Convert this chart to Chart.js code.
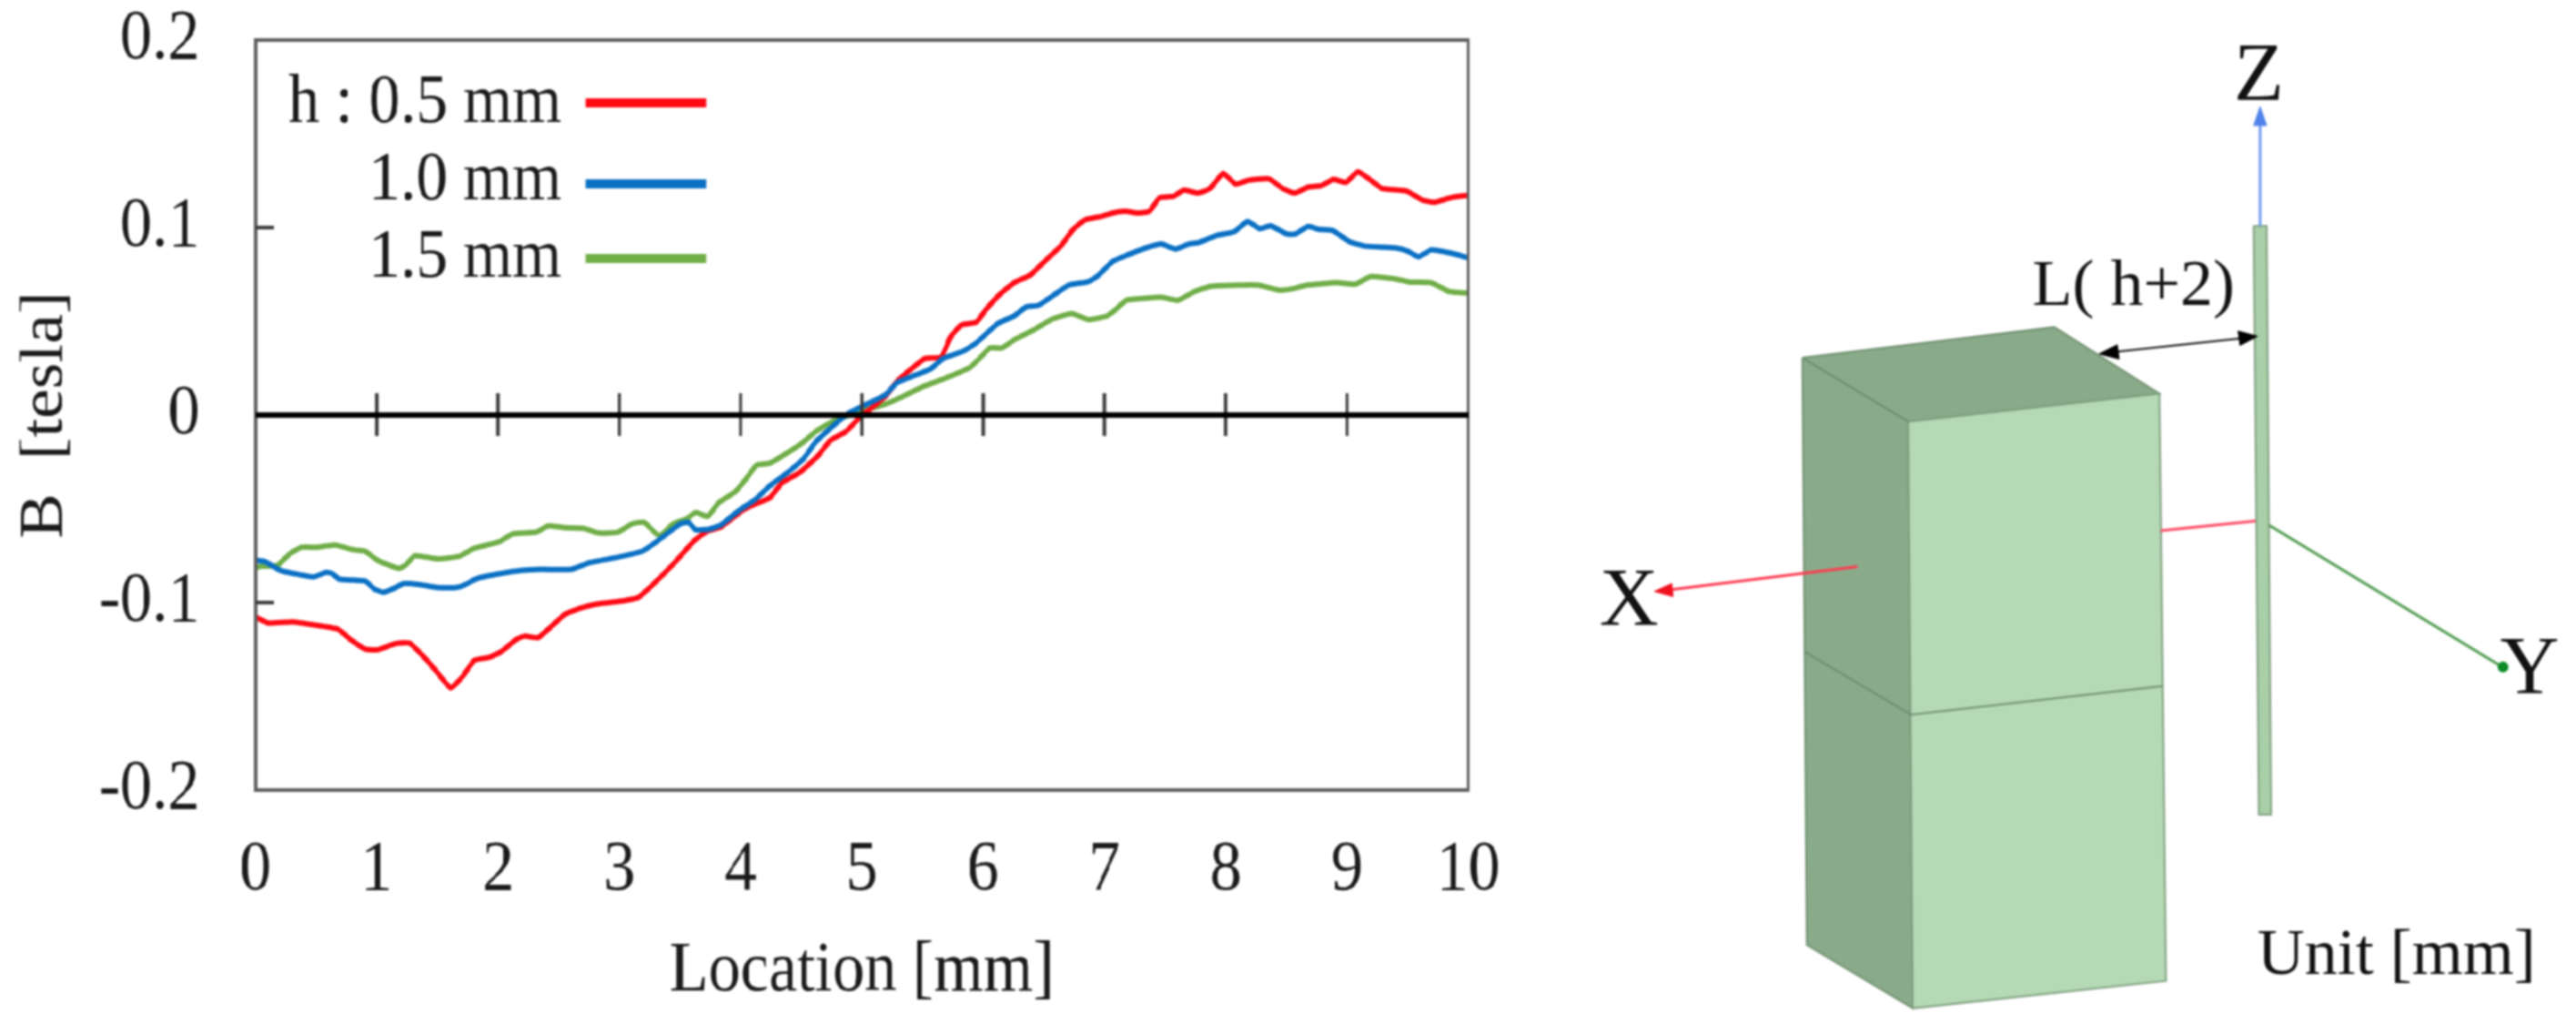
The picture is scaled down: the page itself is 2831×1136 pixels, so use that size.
<!DOCTYPE html>
<html lang="en">
  <head>
    <meta charset="UTF-8" />
    <title>B field along location</title>
    <script src="https://cdn.jsdelivr.net/npm/chart.js@4"></script>
    <style>
      html, body { margin: 0; background: #fff; overflow: hidden; }
      #page { position: relative; width: 2831px; height: 1136px; filter: blur(0.8px); }
      /* reference text is condensed, so the plot canvas is squeezed sideways */
      #plotWrap { position: absolute; left: 0; top: 0; width: 1889px; height: 1136px; transform: scaleX(0.9); transform-origin: 0 0; }
      #sketchWrap { position: absolute; left: 1700px; top: 0; width: 1131px; height: 1136px; }
    </style>
  </head>
  <body>
    <div id="page">
      <div id="plotWrap"><canvas id="plot" width="1889" height="1136"></canvas></div>
      <div id="sketchWrap"><canvas id="sketch" width="1131" height="1136"></canvas></div>
    </div>
    <script>
      const FONT = "'Liberation Serif', 'Times New Roman', serif";
      const squeeze = 0.9;

      // values
      const xTicks = [0, 1, 2, 3, 4, 5, 6, 7, 8, 9, 10];
      const yTicks = [-0.2, -0.1, 0, 0.1, 0.2];

      const seriesLabels = ["h : 0.5 mm", "1.0 mm", "1.5 mm"];
      const seriesColors = ["#ff0a14", "#0a70c4", "#6fad47"];

      const redX = [0, 0.105, 0.305, 0.48, 0.68, 0.78, 0.905, 1.005, 1.155, 1.27, 1.38, 1.48, 1.61, 1.705, 1.805, 1.93, 2.03, 2.155, 2.22, 2.33, 2.42, 2.555, 2.705, 2.855, 3.005, 3.155, 3.29, 3.44, 3.62, 3.72, 3.84, 4.02, 4.12, 4.24, 4.34, 4.49, 4.64, 4.74, 4.87, 4.98, 5.09, 5.195, 5.29, 5.42, 5.52, 5.655, 5.73, 5.82, 5.945, 6.02, 6.14, 6.255, 6.39, 6.52, 6.64, 6.74, 6.84, 6.97, 7.07, 7.17, 7.27, 7.37, 7.455, 7.57, 7.655, 7.77, 7.87, 7.98, 8.08, 8.19, 8.355, 8.47, 8.57, 8.68, 8.79, 8.89, 8.99, 9.09, 9.205, 9.29, 9.49, 9.62, 9.72, 9.87, 10];
      const redY = [-0.1077, -0.1109, -0.1103, -0.1119, -0.1142, -0.1195, -0.1248, -0.1252, -0.1219, -0.1216, -0.1284, -0.1357, -0.1455, -0.1397, -0.1308, -0.1292, -0.126, -0.1195, -0.1179, -0.1187, -0.1139, -0.1061, -0.1025, -0.1004, -0.0993, -0.0973, -0.0896, -0.0798, -0.0669, -0.0621, -0.0596, -0.0507, -0.0475, -0.0442, -0.0362, -0.0305, -0.0216, -0.0135, -0.0087, -0.0014, 0.0043, 0.01, 0.018, 0.0253, 0.0302, 0.031, 0.0415, 0.048, 0.0496, 0.056, 0.0645, 0.0706, 0.0747, 0.0828, 0.0901, 0.0989, 0.1041, 0.1059, 0.1078, 0.1087, 0.1078, 0.1087, 0.1159, 0.1167, 0.12, 0.1184, 0.1208, 0.1289, 0.1232, 0.1253, 0.126, 0.1208, 0.1184, 0.1216, 0.1224, 0.1257, 0.124, 0.1297, 0.1248, 0.1208, 0.1195, 0.1147, 0.1135, 0.1162, 0.1172];

      const blueX = [0, 0.08, 0.205, 0.33, 0.48, 0.58, 0.63, 0.69, 0.805, 0.905, 0.98, 1.055, 1.13, 1.22, 1.355, 1.505, 1.655, 1.73, 1.83, 2.005, 2.205, 2.355, 2.605, 2.755, 2.99, 3.19, 3.32, 3.505, 3.57, 3.63, 3.745, 3.84, 3.99, 4.12, 4.24, 4.39, 4.52, 4.62, 4.77, 4.89, 5.07, 5.195, 5.29, 5.42, 5.565, 5.67, 5.84, 5.94, 6.12, 6.255, 6.355, 6.455, 6.57, 6.705, 6.865, 6.94, 7.07, 7.195, 7.345, 7.47, 7.585, 7.7, 7.78, 7.92, 8.07, 8.18, 8.28, 8.37, 8.505, 8.57, 8.68, 8.77, 8.88, 9.02, 9.145, 9.395, 9.495, 9.59, 9.695, 9.845, 10];
      const blueY = [-0.0774, -0.0782, -0.0828, -0.0847, -0.0863, -0.0839, -0.0844, -0.0875, -0.088, -0.0885, -0.0928, -0.0945, -0.0928, -0.0899, -0.0904, -0.092, -0.092, -0.0904, -0.0871, -0.0847, -0.0828, -0.0823, -0.0823, -0.0787, -0.0758, -0.0726, -0.0669, -0.058, -0.0572, -0.0612, -0.0608, -0.0585, -0.0507, -0.0451, -0.0378, -0.0305, -0.0232, -0.0143, -0.0054, 0.001, 0.0067, 0.0108, 0.0172, 0.0208, 0.0245, 0.0302, 0.0342, 0.0383, 0.0488, 0.0528, 0.0577, 0.0585, 0.0634, 0.0693, 0.0711, 0.0739, 0.082, 0.0855, 0.0892, 0.0913, 0.0885, 0.0913, 0.092, 0.0957, 0.0978, 0.1033, 0.0994, 0.101, 0.0965, 0.0965, 0.1006, 0.099, 0.0985, 0.0925, 0.0901, 0.0892, 0.0876, 0.0844, 0.0881, 0.0865, 0.0839];

      const greenX = [0, 0.055, 0.18, 0.28, 0.38, 0.505, 0.655, 0.805, 0.905, 1.005, 1.18, 1.24, 1.315, 1.505, 1.68, 1.805, 2.005, 2.12, 2.315, 2.415, 2.555, 2.705, 2.83, 2.99, 3.105, 3.205, 3.33, 3.445, 3.555, 3.63, 3.73, 3.82, 3.955, 4.04, 4.13, 4.24, 4.39, 4.52, 4.62, 4.77, 4.9, 5.07, 5.195, 5.34, 5.52, 5.69, 5.89, 5.97, 6.055, 6.155, 6.27, 6.42, 6.57, 6.73, 6.87, 7.02, 7.09, 7.18, 7.32, 7.47, 7.605, 7.74, 7.88, 8.09, 8.27, 8.44, 8.555, 8.67, 8.92, 9.07, 9.195, 9.39, 9.52, 9.695, 9.845, 10];
      const greenY = [-0.0814, -0.0806, -0.0802, -0.0741, -0.0705, -0.0705, -0.0693, -0.0718, -0.0726, -0.0774, -0.0818, -0.0799, -0.075, -0.0767, -0.0753, -0.071, -0.0677, -0.0634, -0.0624, -0.0591, -0.0601, -0.0604, -0.0629, -0.0624, -0.058, -0.0572, -0.0645, -0.058, -0.0553, -0.052, -0.054, -0.0467, -0.041, -0.0345, -0.0268, -0.0257, -0.02, -0.0143, -0.0087, -0.003, 0, 0.0035, 0.0059, 0.01, 0.0156, 0.0197, 0.0253, 0.0302, 0.0358, 0.0358, 0.0407, 0.0455, 0.0512, 0.0541, 0.0509, 0.0528, 0.0561, 0.0612, 0.0622, 0.0629, 0.0612, 0.0658, 0.0687, 0.0693, 0.0693, 0.0666, 0.0674, 0.0693, 0.0706, 0.0698, 0.0739, 0.0727, 0.0709, 0.0706, 0.0658, 0.065];

      const zip = (xs, ys) => xs.map((x, i) => ({ x: x, y: ys[i] }));

      // frame, zero line, inner ticks and the legend on the plot
      const plotDecor = {
        id: "plotDecor",
        afterDatasetsDraw(chart) {
          const { ctx, chartArea, scales } = chart;
          const zero = scales.y.getPixelForValue(0);
          ctx.save();
          ctx.strokeStyle = "#5f5f5f";
          ctx.lineWidth = 4;
          ctx.strokeRect(chartArea.left, chartArea.top, chartArea.width, chartArea.height);

          ctx.strokeStyle = "#3a3a3a";
          xTicks.slice(1, -1).forEach((v) => {
            const px = scales.x.getPixelForValue(v);
            ctx.beginPath();
            ctx.moveTo(px, zero - 24);
            ctx.lineTo(px, zero + 23);
            ctx.stroke();
          });
          [0.1, -0.1].forEach((v) => {
            const py = scales.y.getPixelForValue(v);
            ctx.beginPath();
            ctx.moveTo(chartArea.left, py);
            ctx.lineTo(chartArea.left + 22, py);
            ctx.stroke();
          });
          ctx.strokeStyle = "#000";
          ctx.lineWidth = 6;
          ctx.beginPath();
          ctx.moveTo(chartArea.left, zero);
          ctx.lineTo(chartArea.right, zero);
          ctx.stroke();

          ctx.font = "77px " + FONT;
          ctx.fillStyle = "#1a1a1a";
          ctx.textAlign = "right";
          ctx.textBaseline = "alphabetic";
          const baselines = [134, 219, 304];
          const swatches = [113, 202, 284];
          seriesLabels.forEach((label, i) => {
            ctx.fillText(label, 617 / squeeze, baselines[i]);
            ctx.strokeStyle = seriesColors[i];
            ctx.lineWidth = 10;
            ctx.beginPath();
            ctx.moveTo(644 / squeeze, swatches[i]);
            ctx.lineTo(776 / squeeze, swatches[i]);
            ctx.stroke();
          });
          ctx.restore();
        },
      };

      const lineSet = (i, xs, ys, order) => ({
        label: seriesLabels[i],
        data: zip(xs, ys),
        borderColor: seriesColors[i],
        backgroundColor: seriesColors[i],
        borderWidth: 6,
        pointRadius: 0,
        tension: 0.15,
        showLine: true,
        order: order,
      });

      new Chart(document.getElementById("plot"), {
        type: "scatter",
        data: {
          datasets: [
            lineSet(0, redX, redY, 1),
            lineSet(1, blueX, blueY, 0),
            lineSet(2, greenX, greenY, 2),
          ],
        },
        options: {
          responsive: false,
          animation: false,
          layout: { padding: { top: 44, right: 96, bottom: 0, left: 0 } },
          plugins: { legend: { display: false }, tooltip: { enabled: false } },
          scales: {
            x: {
              type: "linear",
              min: 0,
              max: 10,
              afterFit: (s) => { s.height = 268; s.paddingLeft = 0; s.paddingRight = 0; },
              afterBuildTicks: (s) => { s.ticks = xTicks.map((v) => ({ value: v })); },
              grid: { display: false },
              border: { display: false },
              ticks: { color: "#1a1a1a", font: { family: FONT, size: 78 }, padding: 34, maxRotation: 0, autoSkip: false },
              title: { display: true, text: "Location [mm]", color: "#1a1a1a", font: { family: FONT, size: 78 }, padding: { top: 0, bottom: 22 } },
            },
            y: {
              min: -0.2,
              max: 0.2,
              afterFit: (s) => { s.width = 312; s.paddingTop = 0; s.paddingBottom = 0; },
              afterBuildTicks: (s) => { s.ticks = yTicks.map((v) => ({ value: v })); },
              grid: { display: false },
              border: { display: false },
              ticks: {
                color: "#1a1a1a",
                font: { family: FONT, size: 78 },
                padding: 60,
                autoSkip: false,
                callback: (v) => (v === 0 ? "0" : v.toFixed(1)),
              },
              title: { display: true, text: "B  [tesla]", color: "#1a1a1a", font: { family: FONT, size: 74 }, padding: { top: 11, bottom: 0 } },
            },
          },
        },
        plugins: [plotDecor],
      });

      // right hand sketch, in its own drawing units
      const topFace = [[385, 540], [773, 493], [935, 595], [548, 638], [385, 540]];
      const sideFace = [[385, 540], [548, 638], [555, 1537], [392, 1440], [385, 540]];
      const frontFace = [[548, 638], [935, 595], [945, 1495], [555, 1537], [548, 638]];
      const seam = [[388, 990], [552, 1087], [940, 1043]];
      const rod = [[1080, 338], [1100, 338], [1107, 1240], [1088, 1240], [1080, 338]];
      const zAxis = [[1090, 338], [1090, 180]];
      const zHead = [[1090, 155], [1100, 184], [1080, 184], [1090, 155]];
      const xAxisFar = [[470, 860], [178, 896]];
      const xHead = [[157, 898], [184, 886], [186, 906], [157, 898]];
      const xAxisNear = [[937, 805], [1085, 790]];
      const yAxis = [[1098, 793], [1460, 1012]];
      const yDot = [[1464, 1014]];
      const gapLine = [[848, 533], [1080, 508]];
      const gapHeadA = [[842, 534], [870, 520], [873, 542], [842, 534]];
      const gapHeadB = [[1086, 507], [1056, 499], [1059, 521], [1086, 507]];

      const sketchLabels = ["Z", "L( h+2)", "X", "Y", "Unit [mm]"];
      const labelSpots = [[1088, 112], [895, 432], [118, 917], [1505, 1022], [1300, 1458]];
      const labelSizes = [90, 72, 90, 90, 72];

      const pts = (list) => list.map((p) => ({ x: p[0], y: p[1] }));
      const shape = (list, fill, edge, width) => ({
        data: pts(list),
        showLine: true,
        fill: "shape",
        backgroundColor: fill,
        borderColor: edge,
        borderWidth: width,
        pointRadius: 0,
        tension: 0,
      });
      const stroke = (list, color, width) => ({
        data: pts(list),
        showLine: true,
        fill: false,
        borderColor: color,
        borderWidth: width,
        pointRadius: 0,
        tension: 0,
      });

      const sketchText = {
        id: "sketchText",
        afterDatasetsDraw(chart) {
          const { ctx, scales } = chart;
          ctx.save();
          ctx.fillStyle = "#111";
          ctx.textAlign = "center";
          ctx.textBaseline = "middle";
          sketchLabels.forEach((label, i) => {
            ctx.font = labelSizes[i] + "px " + FONT;
            ctx.fillText(label, scales.x.getPixelForValue(labelSpots[i][0]), scales.y.getPixelForValue(labelSpots[i][1]));
          });
          ctx.restore();
        },
      };

      // first dataset ends up on top
      new Chart(document.getElementById("sketch"), {
        type: "scatter",
        data: {
          datasets: [
            {
              data: pts(yDot),
              pointRadius: 6,
              pointBackgroundColor: "#0b8a25",
              pointBorderWidth: 0,
            },
            shape(gapHeadA, "#000", "#000", 1),
            shape(gapHeadB, "#000", "#000", 1),
            stroke(gapLine, "#111", 2),
            shape(zHead, "#4f83ea", "#4f83ea", 1),
            stroke(zAxis, "#6f9cf0", 3),
            shape(rod, "#a9cfa9", "#7f9f7f", 2),
            stroke(yAxis, "#4f9a4f", 3),
            stroke(xAxisNear, "#ff4a64", 3),
            shape(xHead, "#f01020", "#f01020", 1),
            stroke(xAxisFar, "#ff3a50", 3),
            stroke(seam, "#6f8f6f", 2),
            shape(frontFace, "#b5d9b5", "#7f9f7f", 2),
            shape(sideFace, "#8aab8a", "#6f8f6f", 2),
            shape(topFace, "#8aab8a", "#6f8f6f", 2),
          ],
        },
        options: {
          responsive: false,
          animation: false,
          layout: { padding: 0 },
          plugins: { legend: { display: false }, tooltip: { enabled: false } },
          scales: {
            x: { type: "linear", display: false, min: 0, max: 1568 },
            y: { type: "linear", display: false, min: 0, max: 1568, reverse: true },
          },
        },
        plugins: [sketchText],
      });
    </script>
  </body>
</html>
